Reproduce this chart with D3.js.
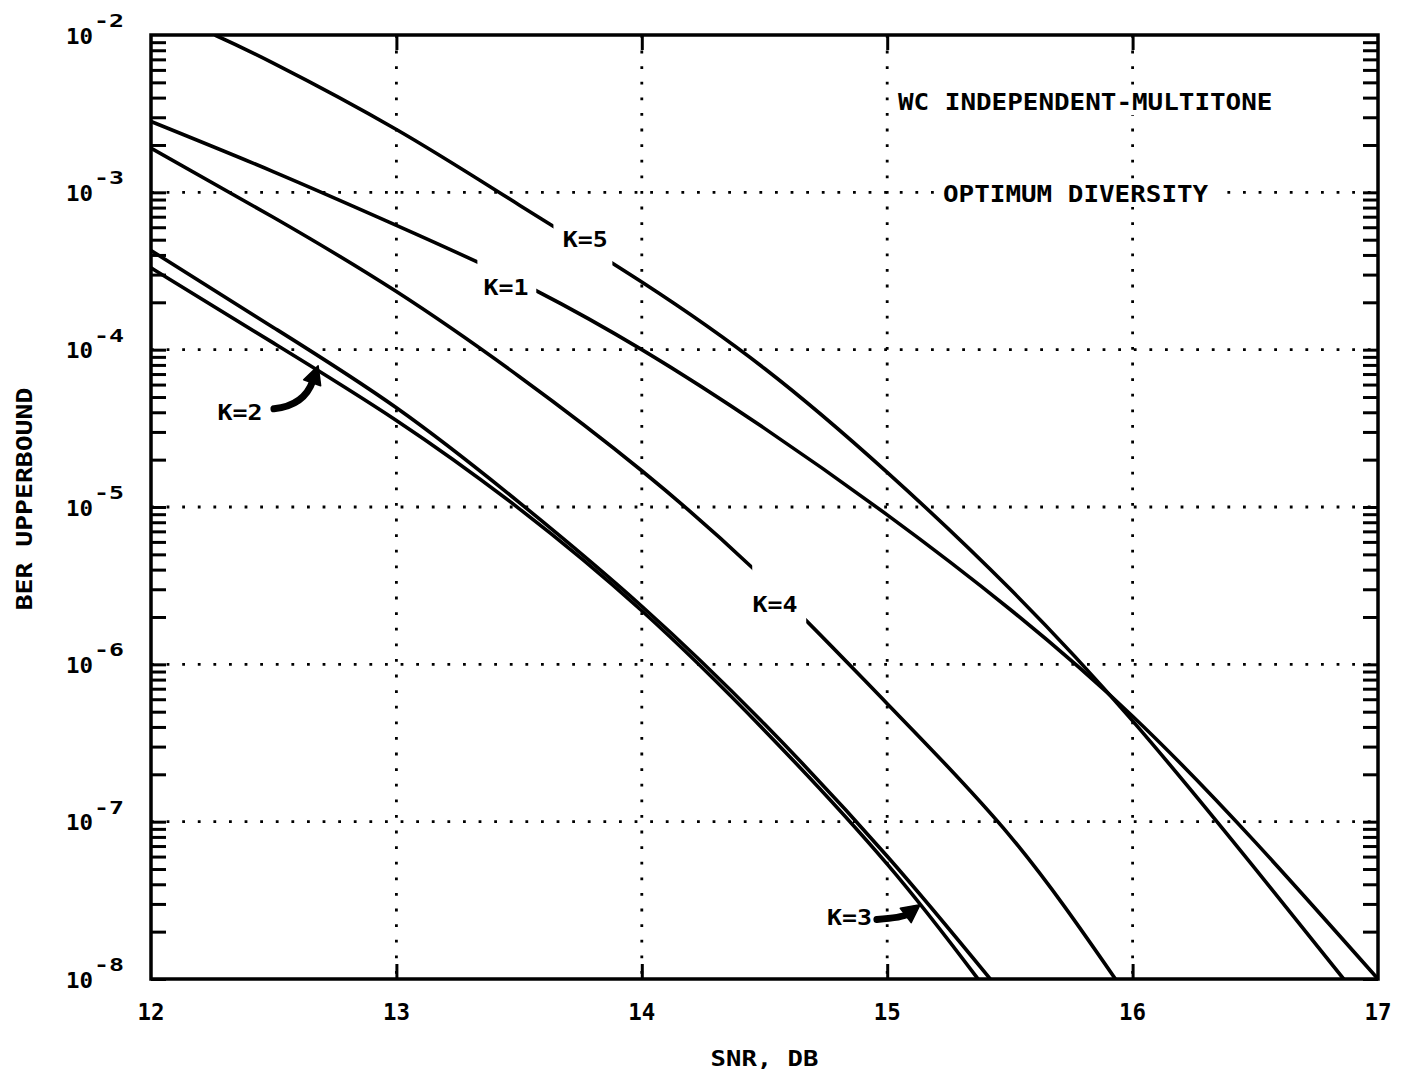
<!DOCTYPE html>
<html><head><meta charset="utf-8">
<script src="https://cdn.jsdelivr.net/npm/d3@7"></script>
<style>body{margin:0;background:#fff} svg{display:block}</style>
</head><body>
<svg id="chart" width="1401" height="1074"></svg>
<script>
// ---------- data ----------
const xTicks = [12, 13, 14, 15, 16, 17];
const xTickLabels = ["12", "13", "14", "15", "16", "17"];
const yDecades = [1e-2, 1e-3, 1e-4, 1e-5, 1e-6, 1e-7, 1e-8];
const yTickExponents = ["-2", "-3", "-4", "-5", "-6", "-7", "-8"];
const xGrid = [13, 14, 15, 16];
const yGrid = [1e-3, 1e-4, 1e-5, 1e-6, 1e-7];

const snrK1 = [12, 12.5, 13, 13.5, 14, 14.5, 15, 15.5, 16, 16.5, 17];
const berK1 = [2.82e-3, 1.35e-3, 6.17e-4, 2.69e-4, 1.0e-4, 3.16e-5, 8.91e-6, 2.24e-6, 4.68e-7, 7.41e-8, 1.0e-8];

const snrK2 = [12, 12.5, 13, 13.5, 14, 14.5, 15, 15.42];
const berK2 = [4.27e-4, 1.38e-4, 4.27e-5, 1.07e-5, 2.34e-6, 4.17e-7, 6.03e-8, 1.0e-8];

const snrK3 = [12, 12.5, 13, 13.5, 14, 14.5, 15, 15.37];
const berK3 = [3.31e-4, 1.10e-4, 3.55e-5, 9.77e-6, 2.19e-6, 3.80e-7, 5.37e-8, 1.0e-8];

const snrK4 = [12, 12.5, 13, 13.5, 14, 14.5, 15, 15.5, 15.93];
const berK4 = [1.91e-3, 6.92e-4, 2.34e-4, 6.76e-5, 1.70e-5, 3.47e-6, 5.62e-7, 8.13e-8, 1.0e-8];

const snrK5 = [12.26, 12.5, 13, 13.5, 14, 14.5, 15, 15.5, 16, 16.5, 16.86];
const berK5 = [1.0e-2, 6.61e-3, 2.51e-3, 8.32e-4, 2.69e-4, 7.59e-5, 1.66e-5, 3.02e-6, 4.37e-7, 5.01e-8, 1.0e-8];

const seriesNames = ["K=1", "K=2", "K=3", "K=4", "K=5"];
// label gaps on the curves (SNR ranges)
const gapK1 = [13.33, 13.57];
const gapK4 = [14.45, 14.67];
const gapK5 = [13.64, 13.88];

// label anchors [snr, ber]
const labelK1 = [13.447, 2.23e-4];
const labelK2 = [12.363, 3.58e-5];
const labelK3 = [14.846, 2.22e-8];
const labelK4 = [14.543, 2.16e-6];
const labelK5 = [13.77, 4.5e-4];
// arrows: tail and tip [snr, ber]
const arrowK2 = [[12.501, 4.21e-5], [12.681, 7.89e-5]];
const arrowK3 = [[14.958, 2.39e-8], [15.134, 2.97e-8]];

const title1 = "WC INDEPENDENT-MULTITONE";
const title2 = "OPTIMUM DIVERSITY";
const xTitle = "SNR, DB";
const yTitle = "BER UPPERBOUND";

// ---------- drawing ----------
const L = 151, R = 1378, T = 35, B = 979;
const x = d3.scaleLinear().domain([12, 17]).range([L, R]);
const y = d3.scaleLog().domain([1e-8, 1e-2]).range([B, T]);
const svg = d3.select("#chart");
const FONT = "'DejaVu Sans Mono', 'Liberation Mono', monospace";

svg.append("rect").attr("width", 1401).attr("height", 1074).attr("fill", "#fff");

// grid
const grid = svg.append("g").attr("stroke", "#000").attr("stroke-width", 2.8)
  .attr("stroke-dasharray", "2.8 12.8");
grid.selectAll("line.gv").data(xGrid).join("line").attr("class", "gv")
  .attr("x1", d => x(d)).attr("x2", d => x(d)).attr("y1", T).attr("y2", B);
grid.selectAll("line.gh").data(yGrid).join("line").attr("class", "gh")
  .attr("y1", d => y(d)).attr("y2", d => y(d)).attr("x1", L).attr("x2", R);

// minor ticks on y
const yMinor = [];
for (let e = -8; e <= -3; e++) for (let m = 1; m <= 9; m++) yMinor.push(m * Math.pow(10, e));

function styleAxis(g) {
  g.select(".domain").remove();
  g.selectAll(".tick line").attr("stroke", "#000").attr("stroke-width", 3);
  g.selectAll(".tick text").remove();
}
svg.append("g").attr("transform", `translate(${L},0)`)
  .call(d3.axisLeft(y).tickValues(yMinor).tickSize(-15).tickFormat("")).call(styleAxis);
svg.append("g").attr("transform", `translate(${R},0)`)
  .call(d3.axisRight(y).tickValues(yMinor).tickSize(-15).tickFormat("")).call(styleAxis);
svg.append("g").attr("transform", `translate(0,${B})`)
  .call(d3.axisBottom(x).tickValues(xGrid).tickSize(-15).tickFormat("")).call(styleAxis);
svg.append("g").attr("transform", `translate(0,${T})`)
  .call(d3.axisTop(x).tickValues(xGrid).tickSize(-15).tickFormat("")).call(styleAxis);

// curves
const defs = svg.append("defs");
const line = d3.line().x(d => x(d[0])).y(d => y(d[1])).curve(d3.curveNatural);
const series = [
  { name: "K=1", snr: snrK1, ber: berK1, gap: gapK1 },
  { name: "K=2", snr: snrK2, ber: berK2, gap: null },
  { name: "K=3", snr: snrK3, ber: berK3, gap: null },
  { name: "K=4", snr: snrK4, ber: berK4, gap: gapK4 },
  { name: "K=5", snr: snrK5, ber: berK5, gap: gapK5 },
];
series.forEach((s, i) => {
  const id = "clip" + i;
  const cp = defs.append("clipPath").attr("id", id);
  if (s.gap) {
    cp.append("rect").attr("x", L).attr("y", T).attr("width", x(s.gap[0]) - L).attr("height", B - T);
    cp.append("rect").attr("x", x(s.gap[1])).attr("y", T).attr("width", R - x(s.gap[1])).attr("height", B - T);
  } else {
    cp.append("rect").attr("x", L).attr("y", T).attr("width", R - L).attr("height", B - T);
  }
  svg.append("path").datum(s.snr.map((v, j) => [v, s.ber[j]]))
    .attr("d", line).attr("fill", "none").attr("stroke", "#000")
    .attr("stroke-width", 3.6).attr("stroke-linejoin", "round")
    .attr("clip-path", `url(#${id})`);
});

// frame
svg.append("rect").attr("x", L).attr("y", T).attr("width", R - L).attr("height", B - T)
  .attr("fill", "none").attr("stroke", "#000").attr("stroke-width", 3.5);

function txt(str, px, py, size, perChar, anchor) {
  return svg.append("text").attr("x", px).attr("y", py).text(str)
    .attr("font-family", FONT).attr("font-weight", "bold").attr("font-size", size)
    .attr("fill", "#000").attr("text-anchor", anchor || "start")
    .attr("textLength", str.length * perChar).attr("lengthAdjust", "spacingAndGlyphs");
}

// y tick labels
yDecades.forEach((d, i) => {
  txt("10", 93, y(d) + 8.5, 22, 13.5, "end");
  txt(yTickExponents[i], 94, y(d) - 8, 17, 15, "start");
});
// x tick labels
xTicks.forEach((d, i) => txt(xTickLabels[i], x(d), 1020, 23, 13.5, "middle"));

// axis titles
txt(xTitle, (L + R) / 2, 1066, 21, 15.4, "middle");
svg.append("text").attr("transform", "translate(32,499) rotate(-90)").text(yTitle)
  .attr("font-family", FONT).attr("font-weight", "bold").attr("font-size", 21)
  .attr("text-anchor", "middle").attr("textLength", yTitle.length * 15.9)
  .attr("lengthAdjust", "spacingAndGlyphs");

// annotation titles with white background
svg.append("rect").attr("x", 893).attr("y", 88).attr("width", 387).attr("height", 27).attr("fill", "#fff");
txt(title1, 898, 110, 23, 15.6, "start");
svg.append("rect").attr("x", 936).attr("y", 180).attr("width", 280).attr("height", 27).attr("fill", "#fff");
txt(title2, 943, 202, 23, 15.6, "start");

// curve labels
[[labelK1, "K=1"], [labelK2, "K=2"], [labelK3, "K=3"], [labelK4, "K=4"], [labelK5, "K=5"]]
  .forEach(([p, s]) => txt(s, x(p[0]), y(p[1]), 21, 15, "middle"));

// arrows
function arrow(a, cdx, cdy) {
  const t = [x(a[0][0]), y(a[0][1])], p = [x(a[1][0]), y(a[1][1])];
  const c = [p[0] - cdx, t[1] - cdy];
  const dx = p[0] - c[0], dy = p[1] - c[1], len = Math.hypot(dx, dy);
  const u = [dx / len, dy / len], n = [-u[1], u[0]];
  const hl = 18, hw = 9;
  const s = [p[0] - u[0] * hl, p[1] - u[1] * hl];
  svg.append("path").attr("d", `M${t[0]},${t[1]} Q${c[0]},${c[1]} ${s[0] + u[0] * 2},${s[1] + u[1] * 2}`)
    .attr("fill", "none").attr("stroke", "#000").attr("stroke-width", 7).attr("stroke-linecap", "round");
  svg.append("path").attr("d", `M${p[0]},${p[1]} L${s[0] + n[0] * hw},${s[1] + n[1] * hw} L${s[0] - n[0] * hw},${s[1] - n[1] * hw} Z`)
    .attr("fill", "#000").attr("stroke", "#000").attr("stroke-width", 1.5).attr("stroke-linejoin", "round");
}
arrow(arrowK2, 14, 3);
arrow(arrowK3, 17, 2);
</script>
</body></html>
